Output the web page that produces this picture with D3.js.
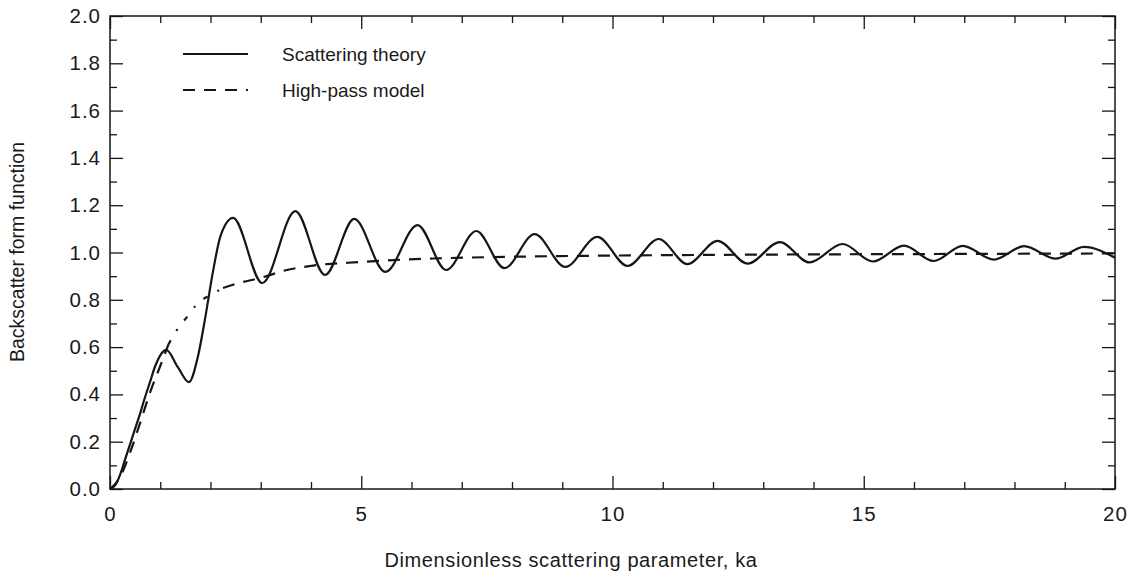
<!DOCTYPE html>
<html>
<head>
<meta charset="utf-8">
<script src="https://cdn.jsdelivr.net/npm/d3@7"></script>
<style>
  html, body { margin: 0; padding: 0; background: #fff; }
  svg { display: block; }
  text { font-family: "Liberation Sans", Arial, Helvetica, sans-serif; fill: #1a1a1a; }
</style>
</head>
<body>
<svg id="chart" width="1134" height="581"></svg>
<script>
// Scattering theory: backscatter form function vs ka
const theoryKa = [0, 0.1, 0.2, 0.3, 0.4, 0.5, 0.6, 0.7, 0.8, 0.9, 1.0, 1.12, 1.35, 1.57, 1.75, 1.9, 2.05, 2.2, 2.45,
  3.03, 3.69, 4.28, 4.86, 5.48, 6.12, 6.69, 7.29, 7.85, 8.45, 9.06, 9.70, 10.30, 10.92, 11.49, 12.09,
  12.69, 13.33, 13.92, 14.58, 15.18, 15.80, 16.39, 16.97, 17.59, 18.19, 18.82, 19.38, 20.0];
const theoryF = [0, 0.015, 0.06, 0.125, 0.19, 0.255, 0.32, 0.39, 0.455, 0.52, 0.565, 0.588, 0.515, 0.452, 0.56, 0.73, 0.92, 1.07, 1.146,
  0.871, 1.175, 0.905, 1.142, 0.918, 1.116, 0.926, 1.091, 0.934, 1.078, 0.939, 1.066, 0.943, 1.057, 0.951, 1.049,
  0.953, 1.044, 0.958, 1.036, 0.962, 1.029, 0.964, 1.028, 0.970, 1.027, 0.974, 1.024, 0.978];

// High-pass model
const modelKa = [0, 0.2, 0.4, 0.6, 0.8, 1.0, 1.16, 1.33, 1.53, 1.75, 2.0, 2.25, 2.5, 3.05, 3.5, 3.98,
  5.0, 5.64, 6.5, 8.0, 10.0, 12.0, 14.0, 17.0, 20.0];
const modelF = [0, 0.05, 0.155, 0.28, 0.41, 0.52, 0.61, 0.672, 0.727, 0.786, 0.82, 0.85, 0.867, 0.896, 0.925, 0.943,
  0.96, 0.968, 0.975, 0.982, 0.987, 0.99, 0.992, 0.994, 0.996];

const xMajorTicks = [0, 5, 10, 15, 20];
const xMinorTicks = [1, 2, 3, 4, 6, 7, 8, 9, 11, 12, 13, 14, 16, 17, 18, 19];
const yMajorTicks = [0, 0.2, 0.4, 0.6, 0.8, 1.0, 1.2, 1.4, 1.6, 1.8, 2.0];
const yMinorTicks = [0.1, 0.3, 0.5, 0.7, 0.9, 1.1, 1.3, 1.5, 1.7, 1.9];

const legendLabels = ["Scattering theory", "High-pass model"];
const xTitle = "Dimensionless scattering parameter, ka";
const yTitle = "Backscatter form function";

const margin = { left: 110, top: 16 };
const W = 1005, H = 473;

const svg = d3.select("#chart");
const g = svg.append("g").attr("transform", `translate(${margin.left},${margin.top})`);

const x = d3.scaleLinear().domain([0, 20]).range([0, W]);
const y = d3.scaleLinear().domain([0, 2]).range([H, 0]);

const ink = "#161616";
const majorLen = 13, minorLen = 7;

function styleAxis(sel) {
  sel.select(".domain").remove();
  sel.selectAll(".tick line").attr("stroke", ink).attr("stroke-width", 1.3);
  sel.selectAll(".tick text").attr("fill", ink).style("font-size", "20.5px")
    .style("letter-spacing", "1px")
    .style("font-family", '"Liberation Sans", Arial, sans-serif');
}

// bottom axis (labelled)
g.append("g").attr("transform", `translate(0,${H})`)
  .call(d3.axisBottom(x).tickValues(xMajorTicks).tickSize(-majorLen).tickPadding(17).tickFormat(d3.format("d")))
  .call(styleAxis);
g.append("g").attr("transform", `translate(0,${H})`)
  .call(d3.axisBottom(x).tickValues(xMinorTicks).tickSize(-minorLen).tickFormat(""))
  .call(styleAxis);
// top axis
g.append("g")
  .call(d3.axisTop(x).tickValues(xMajorTicks).tickSize(-majorLen).tickFormat(""))
  .call(styleAxis);
g.append("g")
  .call(d3.axisTop(x).tickValues(xMinorTicks).tickSize(-minorLen).tickFormat(""))
  .call(styleAxis);
// left axis (labelled)
g.append("g")
  .call(d3.axisLeft(y).tickValues(yMajorTicks).tickSize(-majorLen).tickPadding(9).tickFormat(d3.format(".1f")))
  .call(styleAxis);
g.append("g")
  .call(d3.axisLeft(y).tickValues(yMinorTicks).tickSize(-minorLen).tickFormat(""))
  .call(styleAxis);
// right axis
g.append("g").attr("transform", `translate(${W},0)`)
  .call(d3.axisRight(y).tickValues(yMajorTicks).tickSize(-majorLen).tickFormat(""))
  .call(styleAxis);
g.append("g").attr("transform", `translate(${W},0)`)
  .call(d3.axisRight(y).tickValues(yMinorTicks).tickSize(-minorLen).tickFormat(""))
  .call(styleAxis);

// frame
g.append("rect").attr("x", 0).attr("y", 0).attr("width", W).attr("height", H)
  .attr("fill", "none").attr("stroke", ink).attr("stroke-width", 1.5);

const line = d3.line().x(d => x(d[0])).y(d => y(d[1])).curve(d3.curveMonotoneX);

const theory = theoryKa.map((k, i) => [k, theoryF[i]]);
const model = modelKa.map((k, i) => [k, modelF[i]]);

// the model curve is dashed; over the knee (ka ~1.1 to 2.25) the pen leaves a sparser dash-dot trace
const modelParts = [
  { data: model.filter(d => d[0] <= 1.16), dash: "12,9" },
  { data: model.filter(d => d[0] >= 1.16 && d[0] <= 2.25), dash: "5,11,2,11" },
  { data: model.filter(d => d[0] >= 2.25), dash: "12,9" }
];
g.selectAll("path.model").data(modelParts).join("path").attr("class", "model")
  .attr("d", d => line(d.data))
  .attr("fill", "none").attr("stroke", ink).attr("stroke-width", 2.2)
  .attr("stroke-dasharray", d => d.dash);

g.append("path").datum(theory).attr("d", line)
  .attr("fill", "none").attr("stroke", ink).attr("stroke-width", 2.2);

// legend
const leg = svg.append("g");
leg.append("line").attr("x1", 183).attr("x2", 248).attr("y1", 54).attr("y2", 54)
  .attr("stroke", ink).attr("stroke-width", 2.2);
leg.append("line").attr("x1", 183).attr("x2", 248).attr("y1", 90).attr("y2", 90)
  .attr("stroke", ink).attr("stroke-width", 2.2).attr("stroke-dasharray", "12,9");
leg.selectAll("text.lbl").data(legendLabels).join("text").attr("class", "lbl")
  .attr("x", 282).attr("y", (d, i) => 61 + i * 36)
  .style("font-size", "19px").text(d => d);

// axis titles
svg.append("text").attr("x", 571).attr("y", 567).attr("text-anchor", "middle")
  .style("font-size", "20px").style("letter-spacing", "0.6px").text(xTitle);
svg.append("text").attr("transform", "translate(24,252) rotate(-90)").attr("text-anchor", "middle")
  .style("font-size", "19.5px").text(yTitle);
</script>
</body>
</html>
